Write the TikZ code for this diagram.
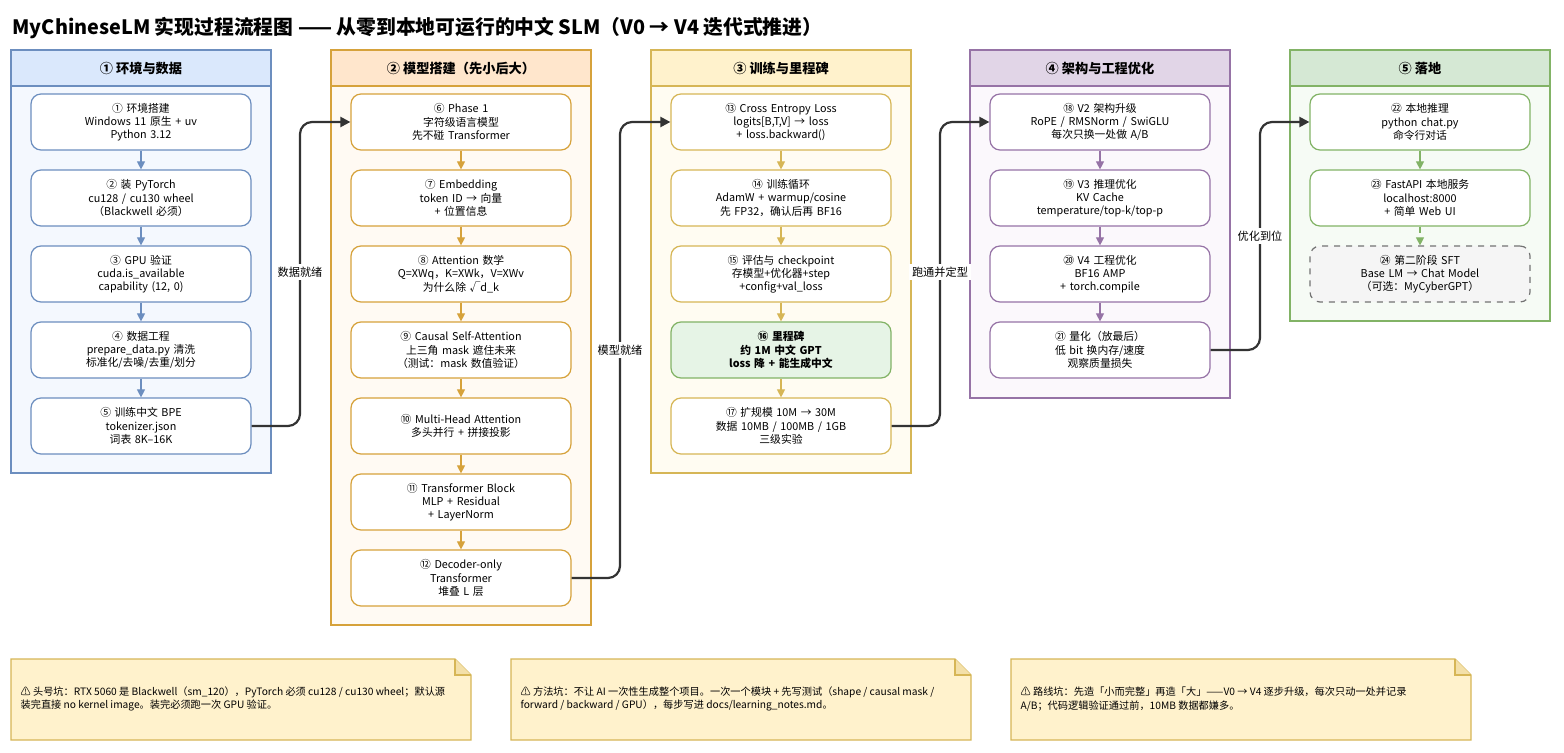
\documentclass[tikz,border=0pt]{standalone}
\usepackage{fontspec}
\setmainfont{Noto Sans CJK SC}
\usetikzlibrary{arrows.meta}
\definecolor{bluS}{HTML}{6C8EBF}\definecolor{bluF}{HTML}{DAE8FC}\definecolor{bluB}{HTML}{F4F8FE}
\definecolor{orgS}{HTML}{D6A23B}\definecolor{orgF}{HTML}{FFE6CC}\definecolor{orgB}{HTML}{FFFAF3}
\definecolor{ylwS}{HTML}{D6B656}\definecolor{ylwF}{HTML}{FFF2CC}\definecolor{ylwB}{HTML}{FFFCF2}
\definecolor{purS}{HTML}{9673A6}\definecolor{purF}{HTML}{E1D5E7}\definecolor{purB}{HTML}{FBF8FC}
\definecolor{grnS}{HTML}{82B366}\definecolor{grnF}{HTML}{D5E8D4}\definecolor{grnB}{HTML}{F6FBF5}
\definecolor{mileF}{HTML}{E6F4E6}
\tikzset{
  every picture/.style={line width=0.6pt},
  step/.style={draw=#1, fill=white, rounded corners=5pt, text width=104pt, minimum width=110pt,
    minimum height=28pt, align=center, font=\fontsize{5.4}{6.6}\selectfont, inner sep=2pt},
  head/.style={font=\bfseries\fontsize{6.6}{8}\selectfont},
  flow/.style={-{Triangle[width=4pt,length=4pt]}, draw=#1, line width=0.6pt},
  link/.style={-{Triangle[width=5pt,length=5pt]}, draw=black!80, line width=1.1pt, rounded corners=6pt},
  tag/.style={fill=white, font=\fontsize{5.6}{7}\selectfont, inner sep=1.5pt},
  note/.style={align=left, font=\fontsize{5.1}{6.8}\selectfont, anchor=west, inner sep=0pt},
}
\newcommand{\lane}[6]{% x0, x1, y1, stroke, head fill, body fill
  \draw[draw=#4, fill=#6] (#1,86) rectangle (#2,#3);
  \draw[draw=#4, fill=#5] (#1,50) rectangle (#2,86);}
\newcommand{\memo}[2]{% x0, x1
  \draw[draw=ylwS, fill=ylwF] (#1,659) -- (#2-16,659) -- (#2,675) -- (#2,740) -- (#1,740) -- cycle;
  \draw[draw=ylwS, fill=ylwF!70!ylwS] (#2-16,659) -- (#2-16,675) -- (#2,675);}
\begin{document}
\begin{tikzpicture}[x=0.5pt,y=-0.5pt]
\useasboundingbox (0,0) rectangle (1564,753);

% title
\node[anchor=west, inner sep=0pt, font=\bfseries\fontsize{9.9}{11}\selectfont] (title) at (12,28)
  {MyChineseLM 实现过程流程图 —— 从零到本地可运行的中文 SLM（V0 → V4 迭代式推进）};

% lanes
\lane{11}{271}{473}{bluS}{bluF}{bluB}
\lane{331}{591}{625}{orgS}{orgF}{orgB}
\lane{651}{911}{473}{ylwS}{ylwF}{ylwB}
\lane{970}{1230}{398}{purS}{purF}{purB}
\lane{1290}{1550}{321}{grnS}{grnF}{grnB}
\node[head] (h1) at (141,68) {① 环境与数据};
\node[head] (h2) at (461,68) {② 模型搭建（先小后大）};
\node[head] (h3) at (781,68) {③ 训练与里程碑};
\node[head] (h4) at (1100,68) {④ 架构与工程优化};
\node[head] (h5) at (1420,68) {⑤ 落地};

% lane 1
\node[step=bluS] (s1) at (141,122) {① 环境搭建\\Windows 11 原生 + uv\\Python 3.12};
\node[step=bluS] (s2) at (141,198) {② 装 PyTorch\\cu128 / cu130 wheel\\（Blackwell 必须）};
\node[step=bluS] (s3) at (141,274) {③ GPU 验证\\cuda.is\_available\\capability (12, 0)};
\node[step=bluS] (s4) at (141,350) {④ 数据工程\\prepare\_data.py 清洗\\标准化/去噪/去重/划分};
\node[step=bluS] (s5) at (141,426) {⑤ 训练中文 BPE\\tokenizer.json\\词表 8K–16K};

% lane 2
\node[step=orgS] (s6) at (461,122) {⑥ Phase 1\\字符级语言模型\\先不碰 Transformer};
\node[step=orgS] (s7) at (461,198) {⑦ Embedding\\token ID → 向量\\+ 位置信息};
\node[step=orgS] (s8) at (461,274) {⑧ Attention 数学\\Q=XWq，K=XWk，V=XWv\\为什么除 √d\_k};
\node[step=orgS] (s9) at (461,350) {⑨ Causal Self-Attention\\上三角 mask 遮住未来\\（测试：mask 数值验证）};
\node[step=orgS] (s10) at (461,426) {⑩ Multi-Head Attention\\多头并行 + 拼接投影};
\node[step=orgS] (s11) at (461,502) {⑪ Transformer Block\\MLP + Residual\\+ LayerNorm};
\node[step=orgS] (s12) at (461,578) {⑫ Decoder-only\\Transformer\\堆叠 L 层};

% lane 3
\node[step=ylwS] (s13) at (781,122) {⑬ Cross Entropy Loss\\logits[B,T,V] → loss\\+ loss.backward()};
\node[step=ylwS] (s14) at (781,198) {⑭ 训练循环\\AdamW + warmup/cosine\\先 FP32，确认后再 BF16};
\node[step=ylwS] (s15) at (781,274) {⑮ 评估与 checkpoint\\存模型+优化器+step\\+config+val\_loss};
\node[step=grnS, fill=mileF, font=\bfseries\fontsize{5.4}{6.6}\selectfont] (s16) at (781,350) {⑯ 里程碑\\约 1M 中文 GPT\\loss 降 + 能生成中文};
\node[step=ylwS] (s17) at (781,426) {⑰ 扩规模 10M → 30M\\数据 10MB / 100MB / 1GB\\三级实验};

% lane 4
\node[step=purS] (s18) at (1100,122) {⑱ V2 架构升级\\RoPE / RMSNorm / SwiGLU\\每次只换一处做 A/B};
\node[step=purS] (s19) at (1100,198) {⑲ V3 推理优化\\KV Cache\\temperature/top-k/top-p};
\node[step=purS] (s20) at (1100,274) {⑳ V4 工程优化\\BF16 AMP\\+ torch.compile};
\node[step=purS] (s21) at (1100,350) {㉑ 量化（放最后）\\低 bit 换内存/速度\\观察质量损失};

% lane 5
\node[step=grnS] (s22) at (1420,122) {㉒ 本地推理\\python chat.py\\命令行对话};
\node[step=grnS] (s23) at (1420,198) {㉓ FastAPI 本地服务\\localhost:8000\\+ 简单 Web UI};
\node[step=black!55, fill=black!4, dashed] (s24) at (1420,274) {㉔ 第二阶段 SFT\\Base LM → Chat Model\\（可选：MyCyberGPT）};

% flows inside lanes
\foreach \a/\b in {s1/s2,s2/s3,s3/s4,s4/s5} \draw[flow=bluS] (\a) -- (\b);
\foreach \a/\b in {s6/s7,s7/s8,s8/s9,s9/s10,s10/s11,s11/s12} \draw[flow=orgS] (\a) -- (\b);
\foreach \a/\b in {s13/s14,s14/s15,s15/s16,s16/s17} \draw[flow=ylwS] (\a) -- (\b);
\foreach \a/\b in {s18/s19,s19/s20,s20/s21} \draw[flow=purS] (\a) -- (\b);
\draw[flow=grnS] (s22) -- (s23);
\draw[flow=grnS, dashed] (s23) -- (s24);

% links between lanes
\draw[link] (s5.east) -- (300,426) -- (300,122) -- (s6.west);
\node[tag] (t1) at (300,272) {数据就绪};
\draw[link] (s12.east) -- (620,578) -- (620,122) -- (s13.west);
\node[tag] (t2) at (620,350) {模型就绪};
\draw[link] (s17.east) -- (940,426) -- (940,122) -- (s18.west);
\node[tag] (t3) at (940,272) {跑通并定型};
\draw[link] (s21.east) -- (1260,350) -- (1260,122) -- (s22.west);
\node[tag] (t4) at (1260,236) {优化到位};

% notes
\memo{11}{471}
\memo{511}{971}
\memo{1011}{1471}
\node[note] (n1) at (20,699) {⚠ 头号坑：RTX 5060 是 Blackwell（sm\_120），PyTorch 必须 cu128 / cu130 wheel；默认源\\装完直接 no kernel image。装完必须跑一次 GPU 验证。};
\node[note] (n2) at (520,699) {⚠ 方法坑：不让 AI 一次性生成整个项目。一次一个模块 + 先写测试（shape / causal mask /\\forward / backward / GPU），每步写进 docs/learning\_notes.md。};
\node[note] (n3) at (1020,699) {⚠ 路线坑：先造「小而完整」再造「大」——V0 → V4 逐步升级，每次只动一处并记录\\A/B；代码逻辑验证通过前，10MB 数据都嫌多。};
\end{tikzpicture}
\end{document}
